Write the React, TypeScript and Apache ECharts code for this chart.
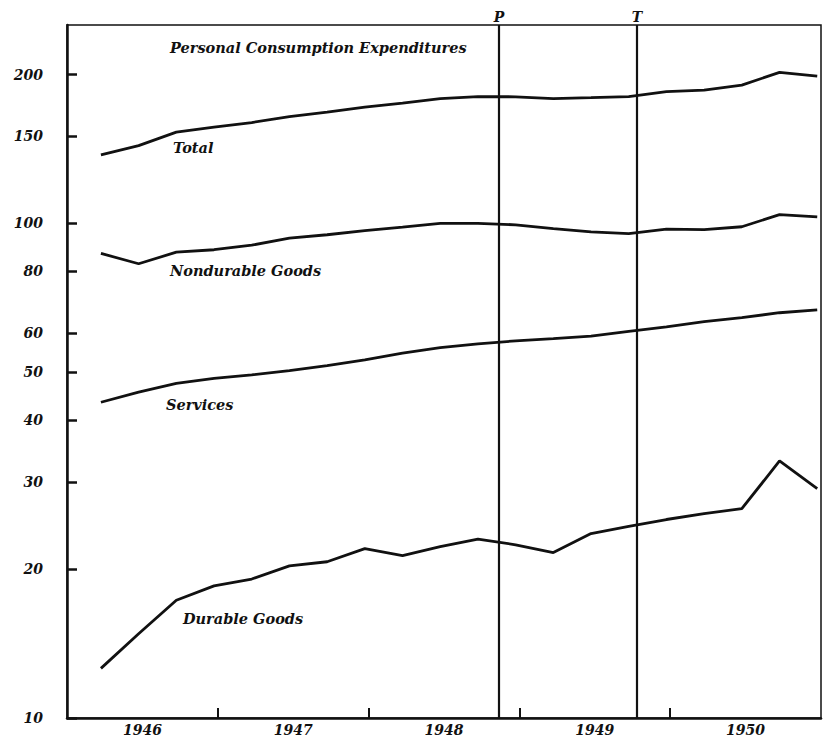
import React, { useEffect, useRef } from "react";
import * as echarts from "echarts";

// Quarterly positions along the x axis (0 = start of 1946, 4 units per year)
const quarterPos = [0.9, 1.9, 2.9, 3.9, 4.9, 5.9, 6.9, 7.9, 8.9, 9.9, 10.9, 11.9, 12.9, 13.9, 14.9, 15.9, 16.9, 17.9, 18.9, 19.9];

// Personal consumption expenditures, billions of dollars (quarterly, 1946-1950)
const total = [137.6, 143.7, 153.0, 156.6, 160.0, 164.5, 168.0, 172.0, 175.2, 178.9, 180.6, 180.4, 178.9, 179.7, 180.6, 184.8, 186.1, 190.5, 202.1, 198.6];
const nondurable = [87.0, 82.9, 87.5, 88.5, 90.4, 93.4, 94.9, 96.7, 98.3, 100.1, 100.1, 99.4, 97.6, 96.2, 95.4, 97.4, 97.2, 98.5, 104.2, 103.1];
const services = [43.5, 45.6, 47.5, 48.6, 49.4, 50.4, 51.6, 53.0, 54.7, 56.1, 57.1, 57.9, 58.5, 59.2, 60.5, 61.8, 63.3, 64.5, 66.0, 66.9];
const durable = [12.6, 14.8, 17.3, 18.5, 19.1, 20.3, 20.7, 22.0, 21.3, 22.2, 23.0, 22.4, 21.6, 23.6, 24.4, 25.2, 25.9, 26.5, 33.1, 29.1];

// Axis labels and ticks
const yTicks = [10, 20, 30, 40, 50, 60, 80, 100, 150, 200];
const years = ["1946", "1947", "1948", "1949", "1950"];
const yearCenters = [2, 6, 10, 14, 18];
const yearBounds = [4, 8, 12, 16];

// Business-cycle reference lines: peak and trough
const cycleMarks = [
  { name: "P", at: 11.46 },
  { name: "T", at: 15.12 },
];

const FONT = "'DejaVu Serif', serif";
const INK = "#111";

export default function App() {
  const ref = useRef<HTMLDivElement>(null);

  useEffect(() => {
    if (!ref.current) return;
    const chart = echarts.init(ref.current, null, { renderer: "svg" });

    const lineSeries = (name: string, values: number[], extra: any = {}) => ({
      name,
      type: "line",
      data: values.map((v, i) => [quarterPos[i], v]),
      symbol: "none",
      lineStyle: { color: INK, width: 2.8 },
      silent: true,
      ...extra,
    });

    const labelText = (text: string, x: number, y: number) => ({
      type: "text",
      x,
      y,
      silent: true,
      style: {
        text,
        fill: INK,
        fontFamily: FONT,
        fontStyle: "italic",
        fontWeight: "bold",
        fontSize: 14.5,
        align: "left",
        verticalAlign: "middle",
      },
    });

    const tickFont = {
      color: INK,
      fontFamily: FONT,
      fontStyle: "italic",
      fontWeight: "bold",
      fontSize: 14,
    };

    chart.setOption({
      animation: false,
      backgroundColor: "#fff",
      grid: {
        left: 67,
        right: 4,
        top: 25,
        bottom: 23,
        show: true,
        borderColor: INK,
        borderWidth: 1.5,
        backgroundColor: "transparent",
      },
      xAxis: {
        type: "value",
        min: 0,
        max: 20,
        axisLine: { show: true, lineStyle: { color: INK, width: 2.5 } },
        axisTick: {
          show: true,
          inside: true,
          length: 10,
          customValues: yearBounds,
          lineStyle: { color: INK, width: 2 },
        },
        axisLabel: {
          customValues: yearCenters,
          formatter: (v: number) => years[yearCenters.indexOf(v)] ?? "",
          margin: 5,
          ...tickFont,
        },
        splitLine: { show: false },
      },
      yAxis: {
        type: "log",
        logBase: 10,
        min: 10,
        max: 252,
        axisLine: { show: true, lineStyle: { color: INK, width: 2.5 } },
        axisTick: {
          show: true,
          inside: true,
          length: 10,
          customValues: yTicks,
          lineStyle: { color: INK, width: 2.5 },
        },
        axisLabel: {
          customValues: yTicks,
          margin: 24,
          ...tickFont,
        },
        splitLine: { show: false },
        minorTick: { show: false },
      },
      series: [
        lineSeries("Total", total, {
          markLine: {
            silent: true,
            symbol: ["none", "none"],
            lineStyle: { color: INK, width: 2.2, type: "solid" },
            label: {
              show: true,
              position: "end",
              distance: 1,
              color: INK,
              fontFamily: FONT,
              fontStyle: "italic",
              fontWeight: "bold",
              fontSize: 14,
              formatter: (p: any) => p.name,
            },
            data: cycleMarks.map((m) => ({ name: m.name, xAxis: m.at })),
          },
        }),
        lineSeries("Nondurable Goods", nondurable),
        lineSeries("Services", services),
        lineSeries("Durable Goods", durable),
      ],
      graphic: [
        labelText("Personal Consumption Expenditures", 170, 47),
        labelText("Total", 173, 147),
        labelText("Nondurable Goods", 170, 270),
        labelText("Services", 166, 404),
        labelText("Durable Goods", 183, 618),
      ],
    });

    return () => chart.dispose();
  }, []);

  return (
    <div
      ref={ref}
      style={{ position: "fixed", left: 0, top: 0, width: 825, height: 741, background: "#fff" }}
    />
  );
}
